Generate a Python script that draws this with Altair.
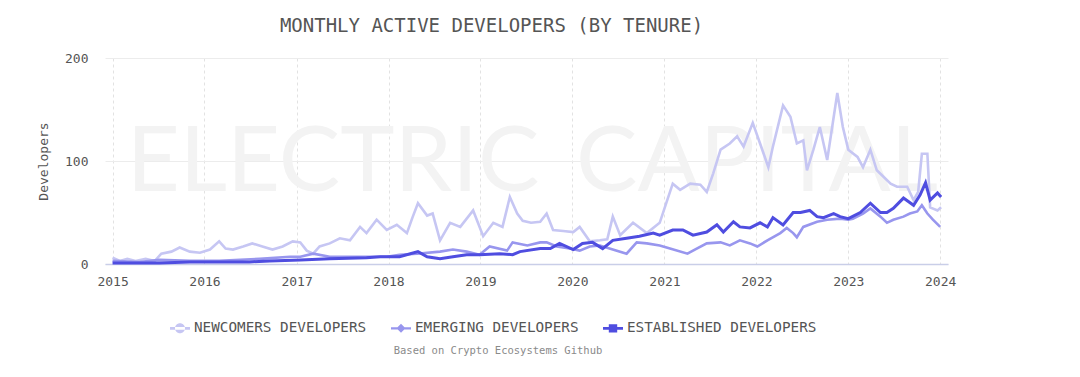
import altair as alt
import pandas as pd

SERIES = ["NEWCOMERS DEVELOPERS", "EMERGING DEVELOPERS", "ESTABLISHED DEVELOPERS"]
COLORS = ["#c6c6f3", "#9896ee", "#4f4de0"]

NEW_T = [2015.00, 2015.08, 2015.16, 2015.25, 2015.36, 2015.46, 2015.53, 2015.64, 2015.73, 2015.84, 2015.95,
         2016.06, 2016.16, 2016.23, 2016.31, 2016.42, 2016.52, 2016.63, 2016.74, 2016.85, 2016.96,
         2017.04, 2017.11, 2017.18, 2017.25, 2017.36, 2017.47, 2017.58, 2017.69, 2017.76, 2017.87, 2017.98,
         2018.09, 2018.20, 2018.26, 2018.32, 2018.42, 2018.48, 2018.56, 2018.67, 2018.78, 2018.92,
         2019.03, 2019.14, 2019.24, 2019.32, 2019.40, 2019.46, 2019.55, 2019.65, 2019.72, 2019.79, 2019.90,
         2020.01, 2020.08, 2020.19, 2020.30, 2020.38, 2020.44, 2020.52, 2020.66, 2020.81, 2020.95,
         2021.03, 2021.09, 2021.17, 2021.28, 2021.39, 2021.46, 2021.53, 2021.61, 2021.71, 2021.79, 2021.86, 2021.96,
         2022.04, 2022.13, 2022.18, 2022.29, 2022.37, 2022.44, 2022.51, 2022.55, 2022.62, 2022.69, 2022.77, 2022.88, 2022.94,
         2023.00, 2023.10, 2023.16, 2023.24, 2023.31, 2023.38, 2023.46, 2023.53, 2023.64, 2023.71, 2023.76, 2023.80,
         2023.86, 2023.89, 2023.97, 2024.01]
NEW_V = [6, 3, 5, 3, 5, 3, 10, 12, 16, 12, 11,
         14, 22, 15, 14, 17, 20, 17, 14, 17, 22,
         21, 13, 10, 17, 20, 25, 23, 36, 30, 43, 33,
         38, 30, 45, 59, 47, 49, 23, 40, 36, 52,
         27, 40, 36, 65, 49, 42, 40, 41, 49, 33, 32,
         31, 36, 22, 23, 24, 46, 28, 40, 30, 40,
         62, 78, 72, 78, 77, 70, 88, 111, 117, 124, 114, 137,
         117, 94, 114, 154, 143, 117, 120, 91, 111, 133, 101, 166, 133,
         111, 104, 94, 111, 91, 85, 78, 75, 75, 62, 70, 107,
         107, 55, 52, 55]

EMG_T = [2015.00, 2015.29, 2015.51, 2015.84,
         2016.16, 2016.60, 2016.93,
         2017.04, 2017.18, 2017.36, 2017.76, 2017.98,
         2018.12, 2018.31, 2018.56, 2018.70, 2018.85, 2018.99,
         2019.10, 2019.29, 2019.35, 2019.51, 2019.65, 2019.72, 2019.83, 2019.97,
         2020.08, 2020.19, 2020.30, 2020.44, 2020.59, 2020.70, 2020.81, 2020.95,
         2021.06, 2021.25, 2021.31, 2021.46, 2021.61, 2021.71, 2021.82, 2021.93,
         2022.01, 2022.12, 2022.26, 2022.33, 2022.40, 2022.44, 2022.51, 2022.66, 2022.77, 2022.91,
         2023.00, 2023.05, 2023.16, 2023.24, 2023.35, 2023.42, 2023.49, 2023.60, 2023.67, 2023.75, 2023.80,
         2023.86, 2023.92, 2024.00]
EMG_V = [3, 2, 4, 3,
         3, 5, 7,
         7, 10, 7, 7, 7,
         9, 10, 12, 14, 12, 9,
         17, 13, 21, 18, 21, 21, 17, 15,
         13, 17, 18, 14, 10, 21, 20, 18,
         15, 10, 13, 20, 21, 18, 23, 20,
         17, 23, 30, 35, 30, 26, 36, 41, 43, 44,
         43, 44, 49, 54, 46, 40, 43, 46, 49, 51, 57,
         49, 43, 36]

EST_T = [2015.00, 2015.29, 2015.51, 2015.84,
         2016.16, 2016.49, 2016.71,
         2017.04, 2017.36, 2017.76, 2017.91,
         2018.12, 2018.32, 2018.42, 2018.56, 2018.70, 2018.85, 2018.99,
         2019.21, 2019.35, 2019.43, 2019.65, 2019.76, 2019.86,
         2020.01, 2020.11, 2020.22, 2020.33, 2020.44, 2020.59, 2020.73, 2020.88, 2020.95,
         2021.09, 2021.20, 2021.31, 2021.46, 2021.57, 2021.64, 2021.75, 2021.82, 2021.93,
         2022.04, 2022.12, 2022.18, 2022.29, 2022.40, 2022.48, 2022.58, 2022.66, 2022.73, 2022.84, 2022.91,
         2023.00, 2023.13, 2023.24, 2023.35, 2023.42, 2023.49, 2023.60, 2023.71, 2023.78, 2023.84, 2023.89, 2023.97,
         2024.01]
EST_V = [1, 1, 1, 2,
         2, 2, 3,
         4, 5, 6, 7,
         7, 12, 7, 5, 7, 9, 9,
         10, 9, 12, 15, 15, 20,
         14, 20, 21, 15, 23, 25, 27, 30, 28,
         33, 33, 28, 31, 38, 31, 41, 36, 35,
         40, 36, 45, 38, 50, 50, 52, 46, 45, 49, 46,
         44, 50, 59, 50, 50, 54, 64, 57, 67, 79, 62, 69,
         65]

YEARS = list(range(2015, 2025))
MONO = "DejaVu Sans Mono"


def to_dates(ts):
    return [pd.Timestamp(int(t), 1, 1) + pd.Timedelta(days=(t - int(t)) * 365.25) for t in ts]


def frame(ts, vs, name):
    return pd.DataFrame({"date": to_dates(ts), "v": vs, "series": name})


frames = [frame(NEW_T, NEW_V, SERIES[0]), frame(EMG_T, EMG_V, SERIES[1]), frame(EST_T, EST_V, SERIES[2])]
widths = [2.6, 2.6, 3.0]

x_enc = alt.X(
    "date:T",
    title=None,
    scale=alt.Scale(domain=[alt.DateTime(year=2014, month=12, date=2), alt.DateTime(year=2024, month=2, date=1)]),
    axis=alt.Axis(values=[alt.DateTime(year=y, month=1, date=1) for y in YEARS], format="%Y"),
)
y_enc = alt.Y(
    "v:Q",
    title="Developers",
    scale=alt.Scale(domain=[0, 200], nice=False),
    axis=alt.Axis(values=[0, 100, 200]),
)

# watermark
wm1 = alt.Chart(pd.DataFrame({"t": ["ELECTRIC"]})).mark_text(
    font="Lato", fontSize=92, color="#f3f3f3", baseline="middle", align="center"
).encode(x=alt.value(228), y=alt.value(105), text="t:N")
wm2 = alt.Chart(pd.DataFrame({"t": ["CAPITAL"]})).mark_text(
    font="Lato", fontSize=92, color="#f3f3f3", baseline="middle", align="center"
).encode(x=alt.value(652), y=alt.value(105), text="t:N")

lines = []
for df, c, w in zip(frames, COLORS, widths):
    lines.append(
        alt.Chart(df).mark_line(strokeWidth=w, color=c, interpolate="linear").encode(x=x_enc, y=y_enc)
    )

# legend source (no visible points)
circle = "M-0.5,0 A0.5,0.5 0 1,0 0.5,0 A0.5,0.5 0 1,0 -0.5,0 Z M-1,-0.14 H1 V0.14 H-1 Z"
diamond = "M0,-0.45 L0.45,0 L0,0.45 L-0.45,0 Z M-1,-0.12 H1 V0.12 H-1 Z"
square = "M-0.42,-0.42 H0.42 V0.42 H-0.42 Z M-1,-0.14 H1 V0.14 H-1 Z"
all_df = pd.concat(frames, ignore_index=True)

legend_opts = dict(
    title=None,
    orient="none",
    legendX=65,
    legendY=260,
    direction="horizontal",
    symbolSize=400,
    symbolStrokeWidth=0,
    symbolOpacity=1,
    labelFont=MONO,
    labelFontSize=14.3,
    labelColor="#555555",
    labelOffset=4,
    labelLimit=400,
    columnPadding=24,
)

legend_layer = alt.Chart(all_df).transform_filter("datum.v < -1").mark_point(filled=True).encode(
    x=x_enc,
    y=y_enc,
    fill=alt.Fill(
        "series:N",
        scale=alt.Scale(domain=SERIES, range=COLORS),
        sort=SERIES,
        legend=alt.Legend(**legend_opts),
    ),
    shape=alt.Shape(
        "series:N",
        scale=alt.Scale(domain=SERIES, range=[circle, diamond, square]),
        sort=SERIES,
        legend=alt.Legend(**legend_opts),
    ),
)

caption = alt.Chart(pd.DataFrame({"t": ["Based on Crypto Ecosystems Github"]})).mark_text(
    font=MONO, fontSize=10.5, color="#8a8a8a", align="center", baseline="middle"
).encode(x=alt.value(393), y=alt.value(293), text="t:N")

chart = alt.layer(wm1, wm2, *lines, legend_layer, caption).properties(
    width=843,
    height=206,
    autosize=alt.AutoSizeParams(type="none"),
    padding={"left": 105, "top": 58, "right": 132, "bottom": 113},
    title=alt.TitleParams(
        "MONTHLY ACTIVE DEVELOPERS (BY TENURE)",
        font=MONO,
        fontSize=19,
        fontWeight="normal",
        color="#555555",
        anchor="middle",
        dx=-35,
        offset=1,
        baseline="alphabetic",
    ),
).configure_view(stroke=None).configure_axisX(
    grid=True,
    gridDash=[3, 3],
    gridColor="#e2e2e2",
    domainColor="#c9cee8",
    domainWidth=1.5,
    ticks=False,
    labelFont=MONO,
    labelFontSize=13,
    labelColor="#555555",
    labelPadding=11,
).configure_axisY(
    gridColor="#ececec",
    domain=False,
    ticks=False,
    labelFont=MONO,
    labelFontSize=13,
    labelColor="#555555",
    labelPadding=17,
    titleFont=MONO,
    titleFontSize=13,
    titleFontWeight="normal",
    titleColor="#555555",
    titlePadding=14,
)

chart.save("out.html", embed_options={"renderer": "svg", "actions": False})
